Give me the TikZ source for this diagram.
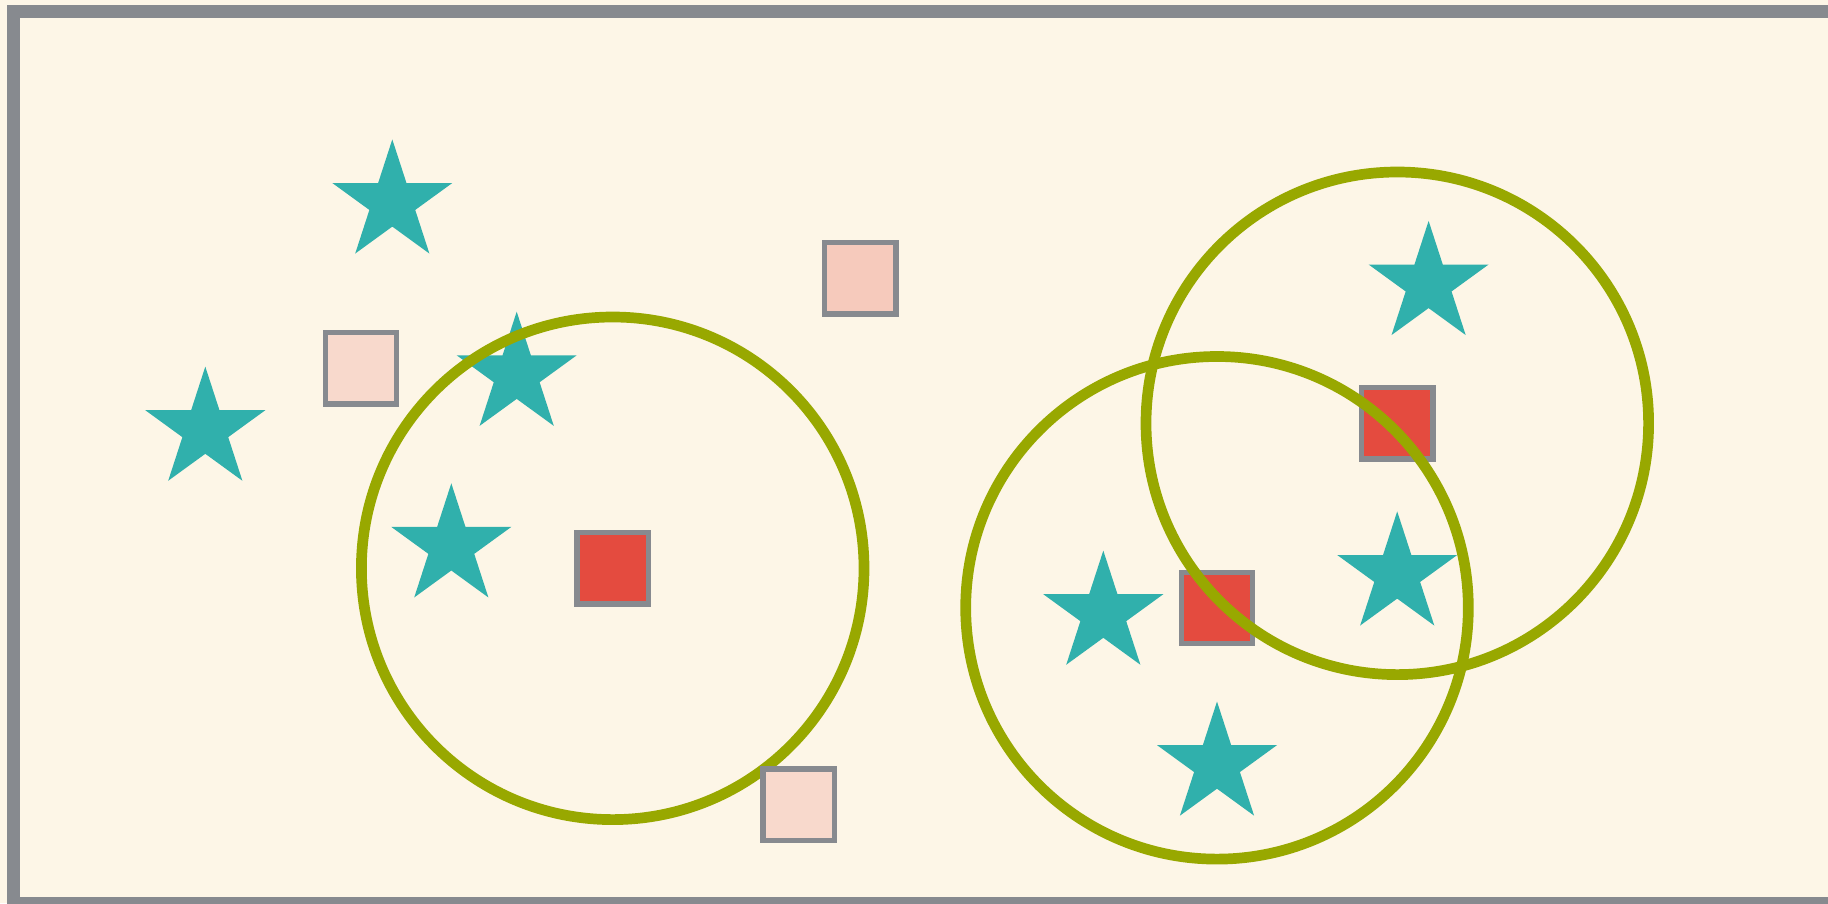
\documentclass[tikz,border=0pt]{standalone}
\usetikzlibrary{shapes.geometric}
\definecolor{paper}{HTML}{FDF6E7}
\definecolor{framegray}{HTML}{878A8F}
\definecolor{teal}{HTML}{30B0AC}
\definecolor{olive}{HTML}{98A800}
\definecolor{redfill}{HTML}{E44B3F}
\definecolor{pinkA}{HTML}{F8D9CC}
\definecolor{pinkB}{HTML}{F6CABC}
\tikzset{
  starmark/.style={star, star points=5, star point ratio=2.618, minimum size=126.2pt,
    inner sep=0pt, outer sep=0pt, fill=teal, draw=none},
  sqbox/.style={rectangle, minimum size=71.3pt, inner sep=0pt, outer sep=0pt,
    draw=framegray, line width=5.3pt},
  ring/.style={draw=olive, line width=10.7pt},
}
\begin{document}
\begin{tikzpicture}[x=1pt,y=-1pt]
  \useasboundingbox (0,0) rectangle (1828,903);
  \clip (0,0) rectangle (1828,903);
  \fill[paper] (0,0) rectangle (1828,903);
  % frame, open to the right
  \draw[framegray, line width=13pt] (1850,11.3) -- (13.5,11.3) -- (13.5,903.2) -- (1850,903.2);

  % red squares (the rings pass over them)
  \node[sqbox, fill=redfill] (r1) at (612.7,568.3) {};
  \node[sqbox, fill=redfill] (r2) at (1397.3,423.3) {};
  \node[sqbox, fill=redfill] (r3) at (1217,607.8) {};

  % stars
  \node[starmark] (sa) at (392.3,202.5) {};
  \node[starmark] (sb) at (205.3,429.7) {};
  \node[starmark] (sc) at (516.7,374.8) {};
  \node[starmark] (sd) at (451.3,546.4) {};
  \node[starmark] (se) at (1428.6,284) {};
  \node[starmark] (sf) at (1103.3,613.7) {};
  \node[starmark] (sg) at (1397.2,574.5) {};
  \node[starmark] (sh) at (1217,764.6) {};

  % rings round the red squares
  \draw[ring] (r1.center) circle[radius=251.3pt];
  \draw[ring] (r2.center) circle[radius=251.3pt];
  \draw[ring] (r3.center) circle[radius=251.3pt];

  % pink squares on top
  \node[sqbox, fill=pinkA] (p1) at (361,368.3) {};
  \node[sqbox, fill=pinkB] (p2) at (860.3,278.3) {};
  \node[sqbox, fill=pinkA] (p3) at (798.5,804.7) {};
\end{tikzpicture}
\end{document}
